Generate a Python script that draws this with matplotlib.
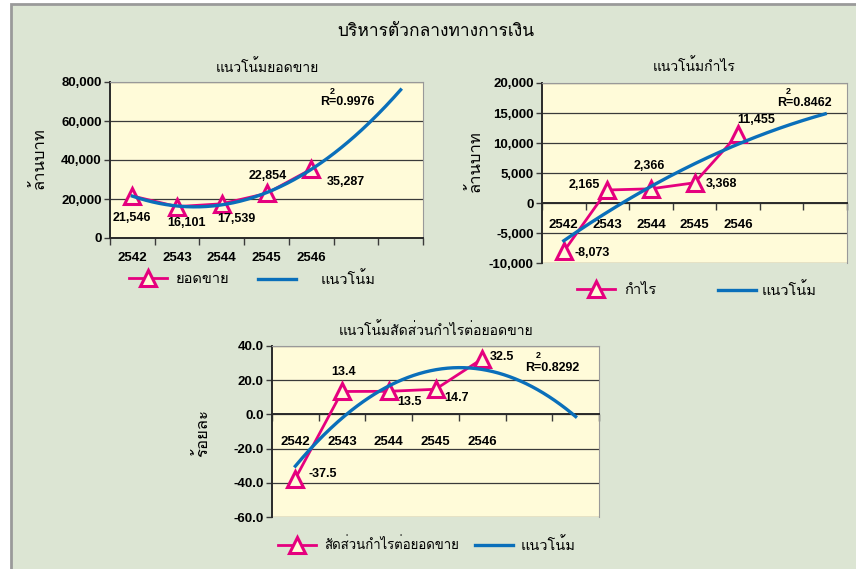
import numpy as np
import matplotlib
matplotlib.use('Agg')
import matplotlib.pyplot as plt
from matplotlib import font_manager, ft2font
from matplotlib.legend import Legend
from matplotlib.patches import Rectangle
from matplotlib.ticker import StrMethodFormatter

# data
years = ['2542', '2543', '2544', '2545', '2546']
sales = [21546, 16101, 17539, 22854, 35287]
profit = [-8073, 2165, 2366, 3368, 11455]
ratio = [-37.5, 13.4, 13.5, 14.7, 32.5]
r2 = ['0.9976', '0.8462', '0.8292']

main_title = 'บริหารตัวกลางทางการเงิน'
titles = ['แนวโน้มยอดขาย', 'แนวโน้มกำไร', 'แนวโน้มสัดส่วนกำไรต่อยอดขาย']
ylabels = ['ล้านบาท', 'ล้านบาท', 'ร้อยละ']
series_names = ['ยอดขาย', 'กำไร', 'สัดส่วนกำไรต่อยอดขาย']
trend_name = 'แนวโน้ม'

W, H = 856, 569
BG = '#dce5d3'
PLOT_BG = '#fffbd9'
PINK = '#e5007e'
BLUE = '#0a6fba'
GRID = '#3a3a3a'


def find_thai():
    # pick any installed font that has thai glyphs
    for f in font_manager.fontManager.ttflist:
        try:
            if 0x0E01 in ft2font.FT2Font(f.fname).get_charmap():
                return f.name
        except Exception:
            pass
    return 'DejaVu Sans'


THAI = [find_thai(), 'DejaVu Sans']

plt.rcParams['font.family'] = ['Liberation Sans', 'DejaVu Sans']
plt.rcParams['font.weight'] = 'bold'
plt.rcParams['axes.unicode_minus'] = False

fig = plt.figure(figsize=(W / 100, H / 100), dpi=100)
fig.patch.set_facecolor('white')
fig.add_artist(Rectangle((11 / W, -0.1), 1.2, 1.1 - 4 / H, transform=fig.transFigure,
                         facecolor=BG, edgecolor='#9a9a9a', lw=2, zorder=-5))


def frac(x, y):
    return x / W, 1 - y / H


def thai_text(x, y, s, size, **kw):
    fig.text(*frac(x, y), s, family=THAI, fontsize=size, fontweight='normal',
             ha='center', va='center', **kw)


def legend_entry(ax, handle, text, x, y, textpad=0.6, size=10.5):
    lg = Legend(ax, [handle], [text], loc='center left', bbox_to_anchor=frac(x, y),
                bbox_transform=fig.transFigure, frameon=False, borderpad=0,
                borderaxespad=0, handlelength=2.6 * 10.5 / size, handletextpad=textpad,
                prop={'family': THAI, 'size': size, 'weight': 'normal'})
    ax.add_artist(lg)


def panel(box, values, ylim, ystep, fmt, offsets, xpad):
    l, t, r, b = box
    ax = fig.add_axes([l / W, 1 - b / H, (r - l) / W, (b - t) / H])
    ax.set_facecolor(PLOT_BG)
    x = np.arange(1, len(values) + 1)
    pink, = ax.plot(x, values, color=PINK, lw=2, marker='^', ms=11, mfc=PLOT_BG,
                    mec=PINK, mew=2.2, zorder=3)
    coef = np.polyfit(x, values, 2)
    xf = np.linspace(1, 7, 200)
    blue, = ax.plot(xf, np.polyval(coef, xf), color=BLUE, lw=2.4, zorder=4)

    ax.set_xlim(0.5, 7.5)
    ax.set_ylim(*ylim)
    ax.set_yticks(np.arange(ylim[0], ylim[1] + ystep / 2, ystep))
    ax.yaxis.set_major_formatter(StrMethodFormatter(fmt))
    ax.grid(axis='y', color=GRID, lw=0.9)
    ax.set_axisbelow(True)

    ax.set_xticks(x, years)
    ax.set_xticks(np.arange(0.5, 8), minor=True)
    ax.tick_params(axis='x', which='major', length=0, pad=xpad, labelsize=9.5)
    ax.tick_params(axis='x', which='minor', length=5, width=1, color=GRID)
    ax.tick_params(axis='y', length=4, width=1, color=GRID, pad=2, labelsize=9.5)

    ax.spines['bottom'].set_position(('data', 0))
    for s in ['left', 'bottom']:
        ax.spines[s].set_color('#2a2a2a')
        ax.spines[s].set_linewidth(1.4)
    for s in ['top', 'right']:
        ax.spines[s].set_color('#999999')
        ax.spines[s].set_linewidth(0.8)

    for xi, v, off in zip(x, values, offsets):
        ax.annotate(fmt.format(x=v), (xi, v), xytext=off,
                    textcoords='offset pixels', ha='center', va='center',
                    fontsize=9, zorder=6)
    return ax, pink, blue


# top left: sales
ax1, p1, b1 = panel((110, 82, 423, 238), sales, (0, 80000), 20000, '{x:,.0f}',
                    [(0, -22), (9, -16), (15, -15), (1, 17), (35, -13)], 10)
# top right: profit
ax2, p2, b2 = panel((542, 83, 847, 263), profit, (-10000, 20000), 5000, '{x:,.0f}',
                    [(28, -2), (-23, 5), (-2, 23), (27, -1), (18, 14)], 11.5)
# bottom: ratio
ax3, p3, b3 = panel((272, 346, 599, 517), ratio, (-60, 40), 20, '{x:.1f}',
                    [(27, 5), (1, 19), (21, -11), (21, -9), (20, 2)], 15.5)

# R squared
for val, (rx, ry), (sx, sy) in zip(r2, [(347, 102), (804, 103), (552, 368)],
                                   [(332, 92), (788, 92), (538, 355)]):
    fig.text(*frac(rx, ry), 'R=' + val, fontsize=9, ha='center', va='center')
    fig.text(*frac(sx, sy), '2', fontsize=6.5, ha='center', va='center')

# titles and axis labels
thai_text(436, 32, main_title, 12.5)
thai_text(267, 67, titles[0], 10)
thai_text(694, 66, titles[1], 10)
thai_text(436, 330, titles[2], 10)
thai_text(39, 158, ylabels[0], 12, rotation=90)
thai_text(475, 161, ylabels[1], 12, rotation=90)
thai_text(203, 433, ylabels[2], 12, rotation=90)

# legends
legend_entry(ax1, p1, series_names[0], 129, 279)
legend_entry(ax1, b1, trend_name, 258, 279, textpad=1.7)
legend_entry(ax2, p2, series_names[1], 577, 290)
legend_entry(ax2, b2, trend_name, 718, 290, textpad=0.4)
legend_entry(ax3, p3, series_names[2], 278, 545, size=9.5)
legend_entry(ax3, b3, trend_name, 475, 545, textpad=0.5)

fig.savefig('out.png', dpi=100, facecolor=fig.get_facecolor())
